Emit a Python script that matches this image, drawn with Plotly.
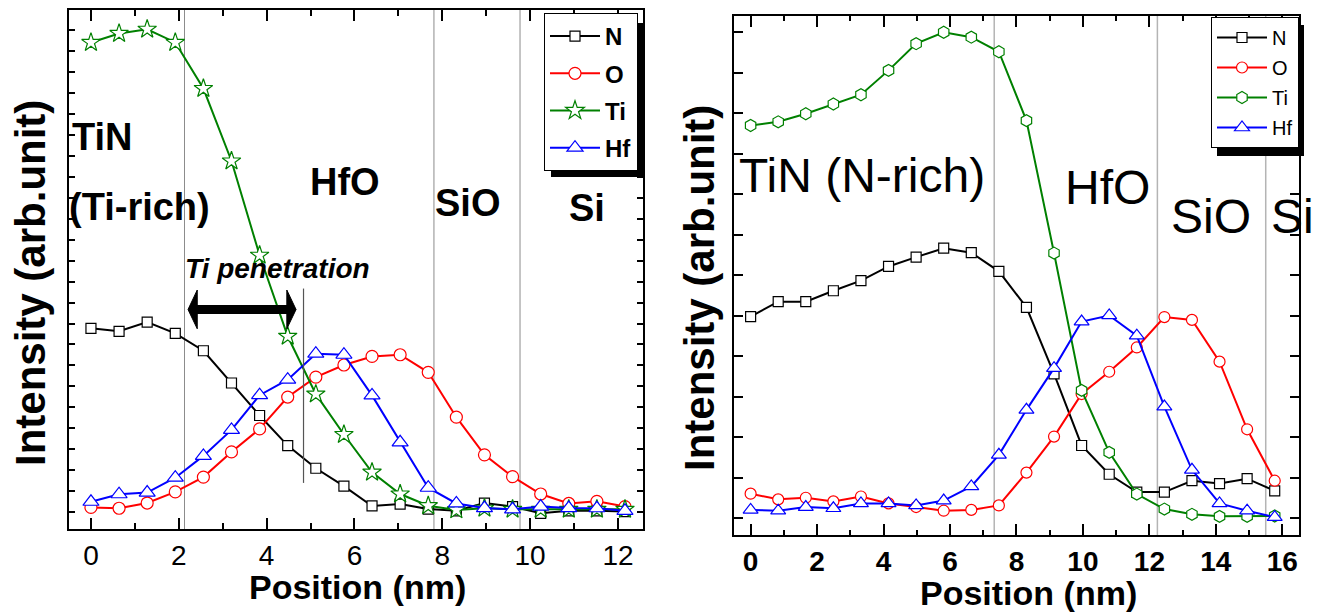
import plotly.graph_objects as go

W, H = 1328, 615

# ---------------- data: left panel (Ti-rich TiN) ----------------
pos_left = [0, 0.64, 1.28, 1.92, 2.56, 3.2, 3.84, 4.48, 5.12, 5.76,
            6.4, 7.04, 7.68, 8.32, 8.96, 9.6, 10.24, 10.88, 11.52, 12.16]
N_left = [8.77, 8.63, 9.07, 8.53, 7.70, 6.16, 4.61, 3.17, 2.09, 1.24,
          0.29, 0.38, 0.14, 0.06, 0.43, 0.26, -0.06, 0.06, 0.06, 0.02]
O_left = [0.22, 0.18, 0.43, 0.96, 1.67, 2.87, 3.97, 5.49, 6.44, 7.02,
          7.43, 7.51, 6.67, 4.53, 2.73, 1.69, 0.86, 0.41, 0.51, 0.26]
Ti_left = [22.42, 22.85, 23.05, 22.42, 20.22, 16.76, 12.26, 8.39, 5.63, 3.70,
           1.90, 0.86, 0.30, 0.10, 0.18, 0.13, 0.13, 0.13, 0.13, 0.13]
Hf_left = [0.49, 0.85, 0.93, 1.64, 2.68, 3.92, 5.58, 6.32, 7.56, 7.51,
           5.57, 3.33, 1.16, 0.41, 0.19, 0.13, 0.26, 0.19, 0.18, 0.06]
boundaries_left = [2.13, 7.81, 9.77]

# ---------------- data: right panel (N-rich TiN) ----------------
pos_right = [0, 0.83, 1.66, 2.49, 3.32, 4.15, 4.98, 5.81, 6.64, 7.47,
             8.3, 9.13, 9.96, 10.79, 11.62, 12.45, 13.28, 14.11, 14.94, 15.77]
N_right = [4.98, 5.35, 5.35, 5.62, 5.87, 6.22, 6.45, 6.67, 6.56, 6.10,
           5.21, 3.57, 1.80, 1.09, 0.65, 0.65, 0.93, 0.86, 0.98, 0.68]
O_right = [0.61, 0.47, 0.51, 0.42, 0.54, 0.37, 0.28, 0.19, 0.21, 0.32,
           1.13, 2.02, 3.07, 3.62, 4.22, 4.97, 4.90, 3.87, 2.20, 0.93]
Ti_right = [9.70, 9.79, 9.99, 10.23, 10.46, 11.06, 11.72, 12.00, 11.88, 11.52,
            9.82, 6.55, 3.16, 1.63, 0.60, 0.23, 0.10, 0.05, 0.05, 0.06]
Hf_right = [0.21, 0.19, 0.28, 0.25, 0.37, 0.37, 0.32, 0.44, 0.79, 1.57,
            2.68, 3.71, 4.86, 5.01, 4.51, 2.76, 1.20, 0.37, 0.19, 0.03]
boundaries_right = [7.33, 12.24, 15.50]

elements = ["N", "O", "Ti", "Hf"]
colors = {"N": "black", "O": "#ff0000", "Ti": "#008000", "Hf": "#0000ff"}

SANS = "Liberation Sans, Arial, Helvetica"


def px(x):
    return x / W


def py(y):
    return 1 - y / H


fig = go.Figure()

left_series = {"N": N_left, "O": O_left, "Ti": Ti_left, "Hf": Hf_left}
left_sym = {"N": ("square", 10), "O": ("circle", 12), "Ti": ("star", 14), "Hf": ("triangle-up", 14)}
for el in elements:
    sym, sz = left_sym[el]
    fig.add_trace(go.Scatter(
        x=pos_left, y=left_series[el], name=el, mode="lines+markers",
        xaxis="x", yaxis="y", legend="legend", legendgroup="L" + el,
        line=dict(color=colors[el], width=2),
        marker=dict(symbol=sym, size=sz, color="white",
                    line=dict(color=colors[el], width=1.2)),
    ))

right_series = {"N": N_right, "O": O_right, "Ti": Ti_right, "Hf": Hf_right}
right_sym = {"N": ("square", 10), "O": ("circle", 11), "Ti": ("hexagon", 12), "Hf": ("triangle-up", 13)}
for el in elements:
    sym, sz = right_sym[el]
    fig.add_trace(go.Scatter(
        x=pos_right, y=right_series[el], name=el, mode="lines+markers",
        xaxis="x2", yaxis="y2", legend="legend2", legendgroup="R" + el,
        line=dict(color=colors[el], width=2),
        marker=dict(symbol=sym, size=sz, color="white",
                    line=dict(color=colors[el], width=1.2)),
    ))

shapes = []
# boundary lines
for b in boundaries_left:
    shapes.append(dict(type="line", xref="x", yref="y domain", x0=b, x1=b, y0=0, y1=1,
                       line=dict(color="#8c8c8c", width=1), layer="below"))
for b in boundaries_right:
    shapes.append(dict(type="line", xref="x2", yref="y2 domain", x0=b, x1=b, y0=0, y1=1,
                       line=dict(color="#b4b4b4", width=1.5), layer="below"))
# Ti penetration marker line
shapes.append(dict(type="line", xref="x", yref="y", x0=4.84, x1=4.84, y0=1.39, y1=10.67,
                   line=dict(color="#555555", width=1.2)))
# double arrow
shapes.append(dict(type="line", xref="x", yref="y", x0=2.36, x1=4.52, y0=9.67, y1=9.67,
                   line=dict(color="black", width=9)))
shapes.append(dict(type="path", xref="x", yref="y",
                   path="M 2.21,9.67 L 2.42,10.6 L 2.42,8.75 Z",
                   fillcolor="black", line=dict(color="black", width=1)))
shapes.append(dict(type="path", xref="x", yref="y",
                   path="M 4.67,9.67 L 4.46,10.6 L 4.46,8.75 Z",
                   fillcolor="black", line=dict(color="black", width=1)))
# legend shadows
shapes.append(dict(type="rect", xref="paper", yref="paper",
                   x0=px(551), x1=px(644), y0=py(177), y1=py(23),
                   fillcolor="black", line=dict(width=0)))
shapes.append(dict(type="rect", xref="paper", yref="paper",
                   x0=px(1217), x1=px(1304), y0=py(156), y1=py(25),
                   fillcolor="black", line=dict(width=0)))

ann = []


def text(t, x, y, size, family, weight="normal", style="normal", angle=0):
    ann.append(dict(text=t, xref="paper", yref="paper", x=px(x), y=py(y),
                    xanchor="center", yanchor="middle", showarrow=False, textangle=angle,
                    font=dict(size=size, family=family, color="black", weight=weight, style=style)))


# left panel labels
text("TiN", 102, 137, 38, SANS, "bold")
text("(Ti-rich)", 139, 207, 38, SANS, "bold")
text("HfO", 345, 182, 38, SANS, "bold")
text("SiO", 467, 203, 38, SANS, "bold")
text("Si", 587, 208, 38, SANS, "bold")
text("Ti penetration", 277, 268, 28, SANS, "bold", "italic")
text("Position (nm)", 357, 587, 34, SANS, "bold")
text("Intensity (arb.unit)", 30, 283, 42, SANS, "bold", angle=-90)

# right panel labels
text("TiN (N-rich)", 862, 175, 48, SANS)
text("HfO", 1107, 188, 48, SANS)
text("SiO", 1211, 216, 48, SANS)
text("Si", 1292, 216, 48, SANS)
text("Position (nm)", 1028, 593, 34, SANS, "bold")
text("Intensity (arb.unit)", 699, 288, 42, SANS, "bold", angle=-90)

axis_common = dict(showgrid=False, zeroline=False, showline=True, linecolor="black",
                   linewidth=2, mirror="ticks", ticks="inside", tickcolor="black",
                   tickwidth=2)

fig.update_layout(
    width=W, height=H, margin=dict(l=0, r=0, t=0, b=0),
    paper_bgcolor="white", plot_bgcolor="white",
    shapes=shapes, annotations=ann,
    xaxis=dict(domain=[px(69), px(643)], range=[-0.5, 12.57], dtick=2, tick0=0,
               ticklen=11, tickfont=dict(size=28, family=SANS, color="black"),
               minor=dict(dtick=1, ticks="inside", ticklen=6, tickcolor="black", tickwidth=2),
               anchor="y", **axis_common),
    yaxis=dict(domain=[py(529), py(10)], range=[-0.81, 23.97], dtick=1, tick0=0,
               ticklen=6, showticklabels=False, anchor="x", **axis_common),
    xaxis2=dict(domain=[px(734), px(1299.3)], range=[-0.5, 16.51], dtick=2, tick0=0,
                ticklen=11, tickfont=dict(size=28, family=SANS, color="black", weight="bold"),
                minor=dict(dtick=1, ticks="inside", ticklen=5, tickcolor="black", tickwidth=2),
                anchor="y2", **axis_common),
    yaxis2=dict(domain=[py(535), py(15.7)], range=[-0.41, 12.41], dtick=1, tick0=0,
                ticklen=9, showticklabels=False, anchor="x2", **axis_common),
    legend=dict(x=px(544), y=py(13), xanchor="left", yanchor="top",
                bgcolor="white", bordercolor="black", borderwidth=1,
                font=dict(size=24, family=SANS, color="black", weight="bold"),
                tracegroupgap=3, itemwidth=50),
    legend2=dict(x=px(1211), y=py(17), xanchor="left", yanchor="top",
                 bgcolor="white", bordercolor="black", borderwidth=1,
                 font=dict(size=20, family=SANS, color="black"),
                 tracegroupgap=1, itemwidth=50),
)

fig.write_html("out.html")
